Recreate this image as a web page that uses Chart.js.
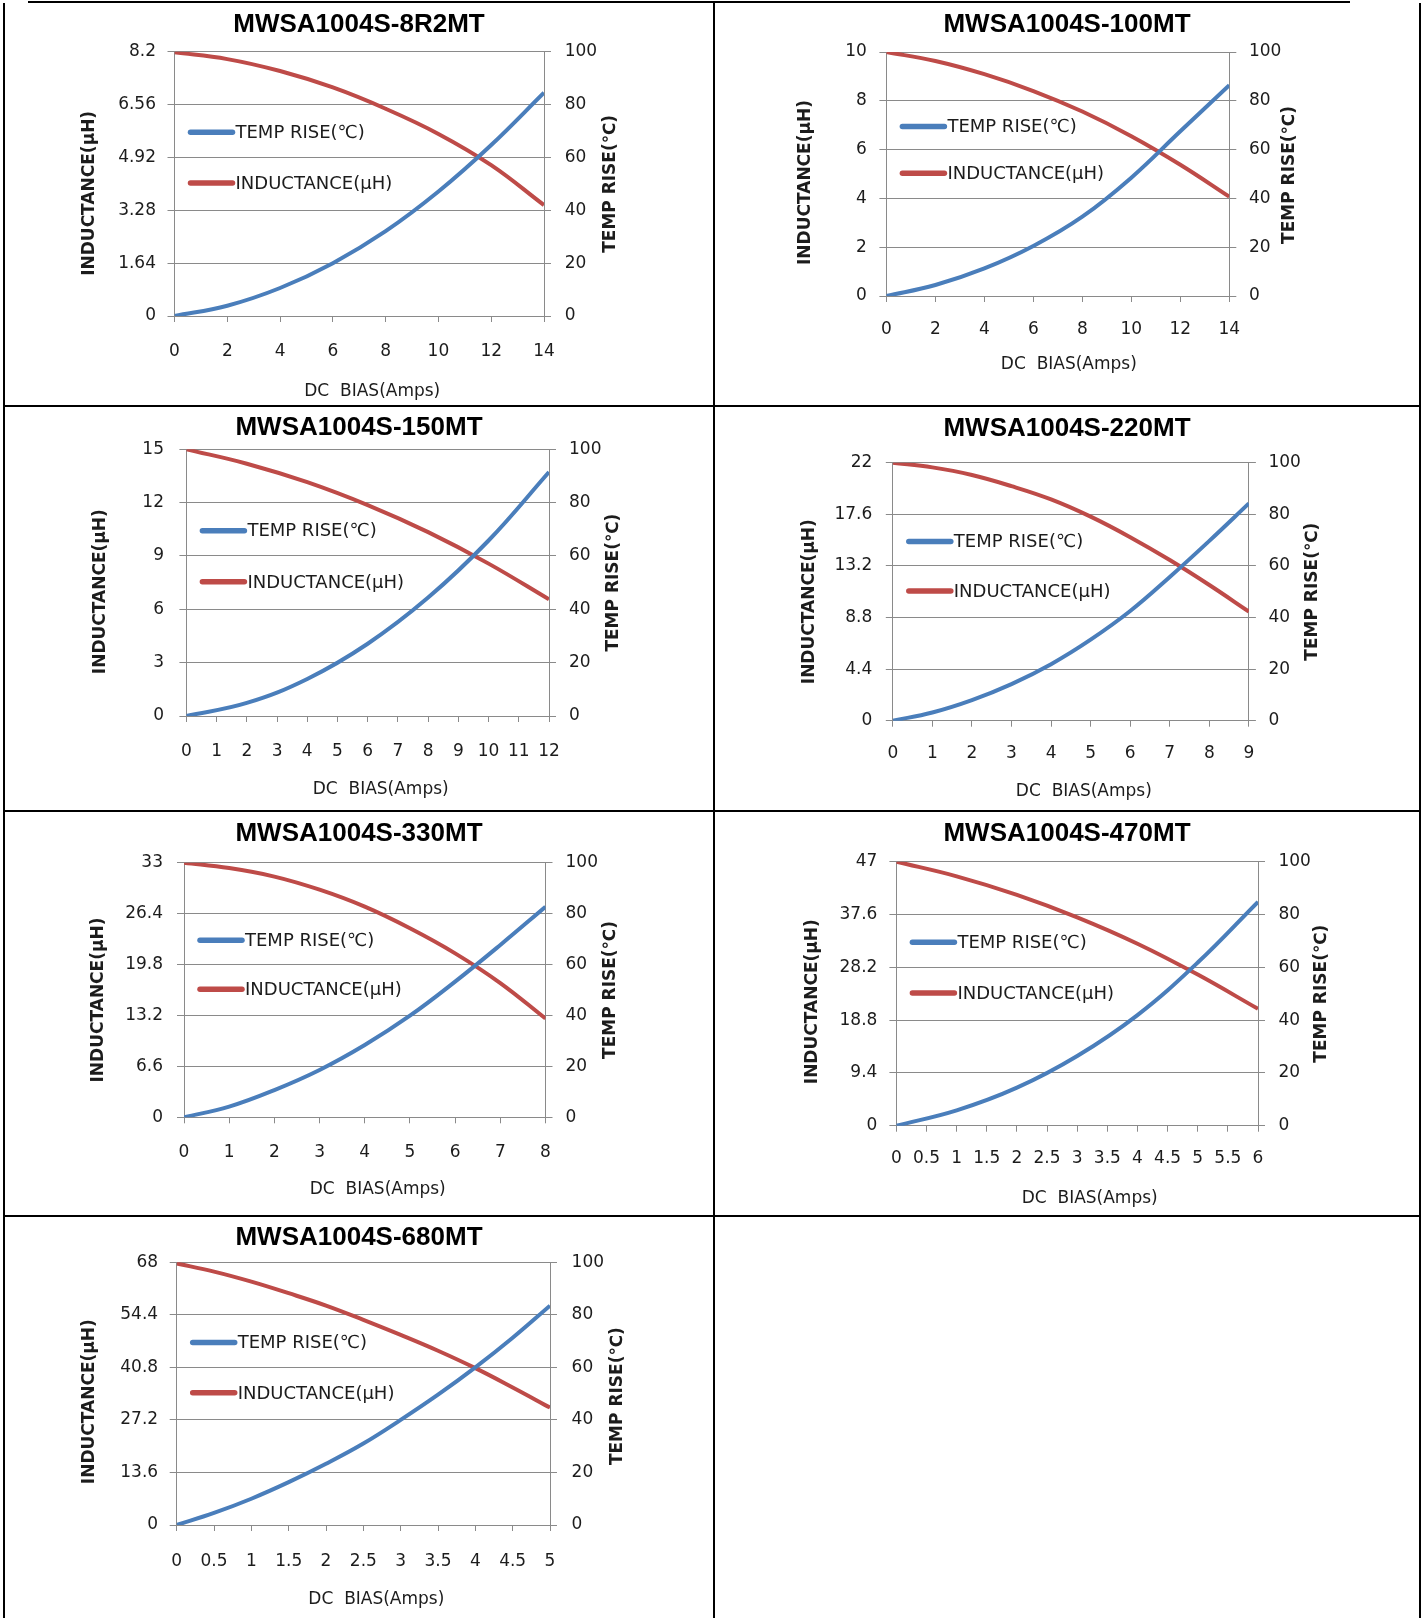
<!DOCTYPE html>
<html>

<head>
    <meta charset="UTF-8">
    <title>MWSA1004S DC Bias</title>
    <style>
        body { margin: 0; background: #fff; }
        #page { position: relative; width: 1423px; height: 1618px; overflow: hidden; background: #fff; }
        .rule { position: absolute; background: #000; }
    </style>
</head>

<body>
    <div id="page"></div>
    <script src="https://cdn.jsdelivr.net/npm/chart.js"></script>
    <script>
        // ---- data ----
        const tempTicks = [0, 20, 40, 60, 80, 100];

        const current_8R2 = [0, 2, 4, 6, 8, 10, 12, 14];
        const inductance_8R2 = [8.18, 7.97, 7.6, 7.09, 6.43, 5.65, 4.68, 3.44];
        const tempRise_8R2 = [0, 3.9, 10.6, 20.0, 32.1, 47.1, 64.7, 84.5];
        const indTicks_8R2 = [0, 1.64, 3.28, 4.92, 6.56, 8.2];
        const xTicks_8R2 = [0, 2, 4, 6, 8, 10, 12, 14];

        const current_100 = [0, 2, 4, 6, 8, 10, 12, 14];
        const inductance_100 = [10, 9.63, 9.09, 8.4, 7.56, 6.55, 5.38, 4.07];
        const tempRise_100 = [0, 4.5, 11.3, 20.5, 32.5, 48.5, 67.5, 86.4];
        const indTicks_100 = [0, 2, 4, 6, 8, 10];
        const xTicks_100 = [0, 2, 4, 6, 8, 10, 12, 14];

        const current_150 = [0, 2, 4, 6, 8, 10, 12];
        const inductance_150 = [15, 14.19, 13.15, 11.86, 10.34, 8.57, 6.56];
        const tempRise_150 = [0, 4.9, 13.9, 27.1, 44.4, 65.8, 91.5];
        const indTicks_150 = [0, 3, 6, 9, 12, 15];
        const xTicks_150 = [0, 1, 2, 3, 4, 5, 6, 7, 8, 9, 10, 11, 12];

        const current_220 = [0, 1, 2, 3, 4, 5, 6, 7, 8, 9];
        const inductance_220 = [22, 21.6, 20.95, 20.0, 18.87, 17.4, 15.65, 13.7, 11.57, 9.3];
        const tempRise_220 = [0, 3.2, 8.0, 14.2, 21.9, 31.4, 42.5, 55.7, 69.7, 84.2];
        const indTicks_220 = [0, 4.4, 8.8, 13.2, 17.6, 22];
        const xTicks_220 = [0, 1, 2, 3, 4, 5, 6, 7, 8, 9];

        const current_330 = [0, 1, 2, 3, 4, 5, 6, 7, 8];
        const inductance_330 = [33, 32.3, 31.2, 29.5, 27.3, 24.5, 21.25, 17.4, 12.8];
        const tempRise_330 = [0, 4.2, 10.7, 18.6, 28.4, 39.9, 53.3, 67.7, 82.7];
        const indTicks_330 = [0, 6.6, 13.2, 19.8, 26.4, 33];
        const xTicks_330 = [0, 1, 2, 3, 4, 5, 6, 7, 8];

        const current_470 = [0, 1, 2, 3, 4, 5, 6];
        const inductance_470 = [47, 44.4, 41.1, 37.1, 32.4, 26.9, 20.8];
        const tempRise_470 = [0, 5.8, 14.4, 26.4, 41.9, 61.8, 84.8];
        const indTicks_470 = [0, 9.4, 18.8, 28.2, 37.6, 47];
        const xTicks_470 = [0, 0.5, 1, 1.5, 2, 2.5, 3, 3.5, 4, 4.5, 5, 5.5, 6];

        const current_680 = [0, 0.5, 1, 1.5, 2, 2.5, 3, 3.5, 4, 4.5, 5];
        const inductance_680 = [67.7, 65.6, 63.0, 60.0, 56.8, 53.1, 49.2, 45.1, 40.6, 35.6, 30.4];
        const tempRise_680 = [0, 4.6, 10.0, 16.3, 23.3, 31.0, 40.0, 49.6, 60.0, 71.3, 83.5];
        const indTicks_680 = [0, 13.6, 27.2, 40.8, 54.4, 68];
        const xTicks_680 = [0, 0.5, 1, 1.5, 2, 2.5, 3, 3.5, 4, 4.5, 5];

        const parts = [
            { title: 'MWSA1004S-8R2MT', current: current_8R2, ind: inductance_8R2, temp: tempRise_8R2, indTicks: indTicks_8R2, xTicks: xTicks_8R2 },
            { title: 'MWSA1004S-100MT', current: current_100, ind: inductance_100, temp: tempRise_100, indTicks: indTicks_100, xTicks: xTicks_100 },
            { title: 'MWSA1004S-150MT', current: current_150, ind: inductance_150, temp: tempRise_150, indTicks: indTicks_150, xTicks: xTicks_150 },
            { title: 'MWSA1004S-220MT', current: current_220, ind: inductance_220, temp: tempRise_220, indTicks: indTicks_220, xTicks: xTicks_220 },
            { title: 'MWSA1004S-330MT', current: current_330, ind: inductance_330, temp: tempRise_330, indTicks: indTicks_330, xTicks: xTicks_330 },
            { title: 'MWSA1004S-470MT', current: current_470, ind: inductance_470, temp: tempRise_470, indTicks: indTicks_470, xTicks: xTicks_470 },
            { title: 'MWSA1004S-680MT', current: current_680, ind: inductance_680, temp: tempRise_680, indTicks: indTicks_680, xTicks: xTicks_680 },
        ];

        // ---- page layout (page pixels) ----
        // cell: [x, y, w, h], plot: [left, top, right, bottom]
        const layouts = [
            { cell: [5, 3, 708, 402], plot: [174.5, 51.7, 544, 316], titleY: 25, xLab: 36, yLabL: 18.5, yLabR: 20.7, tL: [-85, 9.5], tR: [66.6, 0], tX: [13, 76] },
            { cell: [715, 3, 704, 402], plot: [886.4, 52, 1229.3, 296], titleY: 25, xLab: 33.3, yLabL: 19.5, yLabR: 19.6, tL: [-81, 8.5], tR: [60.5, 1], tX: [11, 69] },
            { cell: [5, 407, 708, 403], plot: [186.4, 449.3, 549, 716], titleY: 428, xLab: 35.7, yLabL: 22.4, yLabR: 20, tL: [-85.4, 9], tR: [65, 0], tX: [13, 74] },
            { cell: [715, 407, 704, 403], plot: [892.8, 462.7, 1248.9, 720.7], titleY: 429, xLab: 33.3, yLabL: 20.5, yLabR: 19.5, tL: [-82.8, 10], tR: [63.6, 0], tX: [13, 71] },
            { cell: [5, 812, 708, 403], plot: [184, 862.7, 545.5, 1117.3], titleY: 834, xLab: 35, yLabL: 21, yLabR: 20, tL: [-85, 10], tR: [65, 0], tX: [13, 72.7] },
            { cell: [715, 812, 704, 403], plot: [896.4, 861.7, 1258, 1125.7], titleY: 834, xLab: 33.3, yLabL: 19, yLabR: 20.4, tL: [-84, 8], tR: [63.6, 0], tX: [12.5, 72.6] },
            { cell: [5, 1217, 708, 401], plot: [176.7, 1262.3, 550, 1525], titleY: 1238, xLab: 36.5, yLabL: 18.6, yLabR: 21.6, tL: [-87.5, 8], tR: [67.5, 2.5], tX: [13, 75] },
        ];

        const BLUE = '#4A7EBB';
        const RED = '#BE4B48';
        const GRID = '#8a8a8a';
        const INK = '#1c1c1c';
        const SANS = '"DejaVu Sans", Verdana, sans-serif';
        const TICK_SIZE = 17;

        const page = document.getElementById('page');

        // table rules
        const rules = [
            [28, 1, 1322, 2], [3, 3, 2, 1615], [713, 1, 2, 1617], [1419, 3, 2, 1615],
            [3, 405, 1418, 2], [3, 810, 1418, 2], [3, 1215, 1418, 2],
        ];

        // legend drawn inside the plot, left side
        const insideLegend = {
            id: 'insideLegend',
            afterDatasetsDraw(chart) {
                const { ctx, chartArea: a } = chart;
                const rows = [0.305, 0.497];
                ctx.save();
                ctx.font = '18px ' + SANS;
                ctx.textBaseline = 'middle';
                ctx.textAlign = 'left';
                chart.data.datasets.forEach((ds, i) => {
                    const y = a.top + rows[i] * a.height;
                    ctx.strokeStyle = ds.borderColor;
                    ctx.lineWidth = 5.5;
                    ctx.lineCap = 'round';
                    ctx.beginPath();
                    ctx.moveTo(a.left + 16, y);
                    ctx.lineTo(a.left + 58, y);
                    ctx.stroke();
                    ctx.fillStyle = INK;
                    ctx.fillText(ds.label, a.left + 61, y + 1);
                });
                ctx.restore();
            }
        };

        // axis titles (right one reads bottom-to-top like the left one)
        const axisTitles = {
            id: 'axisTitles',
            afterDraw(chart, args, opts) {
                const { ctx, chartArea: a } = chart;
                const midY = (a.top + a.bottom) / 2;
                ctx.save();
                ctx.fillStyle = INK;
                ctx.textAlign = 'center';
                ctx.textBaseline = 'middle';

                ctx.font = 'bold 17px ' + SANS;
                ctx.save();
                ctx.translate(a.left + opts.tL[0], midY + opts.tL[1]);
                ctx.rotate(-Math.PI / 2);
                ctx.fillText('INDUCTANCE(μH)', 0, 0);
                ctx.restore();

                ctx.save();
                ctx.translate(a.right + opts.tR[0], midY + opts.tR[1]);
                ctx.rotate(-Math.PI / 2);
                ctx.fillText('TEMP RISE(℃)', 0, 0);
                ctx.restore();

                ctx.font = '17px ' + SANS;
                ctx.fillText('DC  BIAS(Amps)', (a.left + a.right) / 2 + opts.tX[0], a.bottom + opts.tX[1]);
                ctx.restore();
            }
        };

        function tickList(values) {
            return (scale) => { scale.ticks = values.map((v) => ({ value: v })); };
        }

        function addChart(part, lay) {
            const [x0, y0, w, h] = lay.cell;
            const L = lay.plot[0] - x0;
            const T = lay.plot[1] - y0;
            const R = lay.plot[2] - x0;
            const B = lay.plot[3] - y0;

            const canvas = document.createElement('canvas');
            canvas.width = w;
            canvas.height = h;
            canvas.style.position = 'absolute';
            canvas.style.left = x0 + 'px';
            canvas.style.top = y0 + 'px';
            page.appendChild(canvas);

            const titleSize = 26;
            const padTop = lay.titleY - y0 - titleSize * 0.6;
            const padBottom = T - padTop - titleSize * 1.2;
            const tickFont = { family: SANS, size: TICK_SIZE };

            new Chart(canvas.getContext('2d'), {
                type: 'line',
                data: {
                    datasets: [
                        {
                            label: 'TEMP RISE(℃)',
                            data: part.current.map((x, i) => ({ x: x, y: part.temp[i] })),
                            yAxisID: 'y2',
                            borderColor: BLUE,
                            borderWidth: 4,
                            pointRadius: 0,
                            fill: false,
                            tension: 0.4,
                        },
                        {
                            label: 'INDUCTANCE(μH)',
                            data: part.current.map((x, i) => ({ x: x, y: part.ind[i] })),
                            yAxisID: 'y',
                            borderColor: RED,
                            borderWidth: 4,
                            pointRadius: 0,
                            fill: false,
                            tension: 0.4,
                        },
                    ],
                },
                options: {
                    responsive: false,
                    animation: false,
                    devicePixelRatio: 1,
                    layout: { padding: 0 },
                    events: [],
                    plugins: {
                        legend: { display: false },
                        tooltip: { enabled: false },
                        title: {
                            display: true,
                            text: part.title,
                            color: '#000',
                            font: { family: '"Liberation Sans", Arial, sans-serif', size: titleSize, weight: 'bold' },
                            padding: { top: padTop, bottom: padBottom },
                        },
                        axisTitles: { tL: lay.tL, tR: lay.tR, tX: lay.tX },
                    },
                    scales: {
                        x: {
                            type: 'linear',
                            min: part.xTicks[0],
                            max: part.xTicks[part.xTicks.length - 1],
                            afterBuildTicks: tickList(part.xTicks),
                            afterFit: (s) => { s.height = h - B; },
                            grid: { drawOnChartArea: false, drawTicks: true, tickLength: 6, color: GRID },
                            border: { color: GRID },
                            ticks: {
                                autoSkip: false, maxRotation: 0, minRotation: 0,
                                padding: lay.xLab - 6 - TICK_SIZE * 0.6,
                                font: tickFont, color: INK,
                                callback: (v) => String(v),
                            },
                        },
                        y: {
                            position: 'left',
                            min: 0,
                            max: part.indTicks[part.indTicks.length - 1],
                            afterBuildTicks: tickList(part.indTicks),
                            afterFit: (s) => { s.width = L; },
                            grid: { color: GRID, tickLength: 7 },
                            border: { color: GRID },
                            ticks: { padding: lay.yLabL - 7, font: tickFont, color: INK, callback: (v) => String(v) },
                        },
                        y2: {
                            position: 'right',
                            min: 0,
                            max: 100,
                            afterBuildTicks: tickList(tempTicks),
                            afterFit: (s) => { s.width = w - R; },
                            grid: { drawOnChartArea: false, color: GRID, tickLength: 7 },
                            border: { color: GRID },
                            ticks: { padding: lay.yLabR - 7, font: tickFont, color: INK, callback: (v) => String(v) },
                        },
                    },
                },
                plugins: [insideLegend, axisTitles],
            });
        }

        parts.forEach((p, i) => addChart(p, layouts[i]));

        rules.forEach(([x, y, w, h]) => {
            const d = document.createElement('div');
            d.className = 'rule';
            d.style.left = x + 'px';
            d.style.top = y + 'px';
            d.style.width = w + 'px';
            d.style.height = h + 'px';
            page.appendChild(d);
        });
    </script>
</body>

</html>
